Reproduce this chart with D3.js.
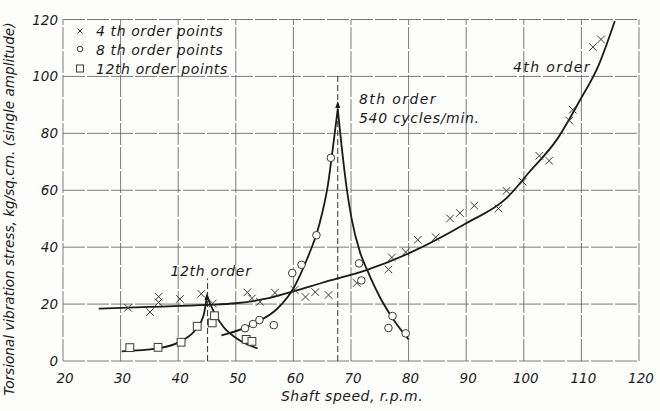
<!DOCTYPE html>
<html>
<head>
<meta charset="utf-8">
<script src="https://cdn.jsdelivr.net/npm/d3@7"></script>
<style>
  body { margin: 0; background: #fdfdfc; }
  svg text { font-family: "DejaVu Sans", sans-serif; font-style: oblique; fill: #1a1a1a; }
</style>
</head>
<body>
<div id="chart"></div>
<script>
// tick values
var xTicks = [20, 30, 40, 50, 60, 70, 80, 90, 100, 110, 120];
var yTicks = [0, 20, 40, 60, 80, 100, 120];

// measured points [rpm, stress]
var fourthPoints = [[31.3,18.7],[35.1,17.2],[36.6,22.6],[36.6,20.6],[40.3,21.8],[44.0,23.6],[46.0,20.2],
  [52.0,24.1],[52.8,22.0],[54.2,20.8],[56.8,24.0],[60.2,25.0],[62.1,22.5],[63.8,24.2],[66.1,23.2],
  [71.0,27.4],[76.5,32.2],[77.1,36.4],[79.5,38.3],[81.6,42.6],[84.7,43.5],[87.2,50.1],[88.9,52.0],
  [91.4,54.6],[95.6,53.6],[97.0,59.8],[99.8,63.0],[102.7,72.1],[104.4,70.4],[107.9,84.5],[108.5,88.3],
  [112.0,110.3],[113.4,113.0]];
var eighthPoints = [[51.6,11.5],[53.0,13.0],[54.1,14.4],[56.6,12.6],[59.8,30.9],[61.4,33.8],[64.0,44.2],
  [66.5,71.4],[71.4,34.3],[71.8,28.3],[76.5,11.6],[77.2,15.8],[79.5,9.7]];
var twelfthPoints = [[31.6,4.7],[36.5,4.8],[40.5,6.6],[43.3,12.2],[45.9,13.4],[46.3,15.9],[51.8,7.6],[52.8,6.9]];

// faired curves
var fourthCurve = [[26.2,18.4],[35,19.0],[45,19.7],[50,20.3],[55,21.8],[60,24.5],[65,27.5],[72.8,32],
  [80,37.8],[90,48.4],[97,57.2],[101,66.5],[105.7,77.7],[109.6,91.1],[113,104],[115.8,119.5]];
var eighthRise = [[47.5,9.0],[51,11.2],[54,14],[57,18],[59,22.5],[60,25.5],[61,29.5],[62,34],[63,39],
  [64,44.5],[65,52],[66,62],[66.8,74],[67.7,88.5]];
var eighthFall = [[67.7,88.5],[68.4,75],[69.3,60],[70.1,50],[71.6,38],[72.8,32],[75,22.5],[77.3,14.8],[80,7.6]];
var twelfthRise = [[30.2,3.4],[36.3,4.4],[40.3,6.8],[43.2,11.5],[44.4,16],[45,22.8]];
var twelfthFall = [[45,22.8],[45.5,20.3],[47.8,12.1],[50.1,8.0],[53.8,4.4]];

var legendItems = ["4 th order points", "8 th order points", "12th order points"];

var width = 660, height = 411,
    margin = { top: 19.5, right: 21, bottom: 50, left: 63 };

var svg = d3.select('#chart').append('svg')
    .attr('width', width)
    .attr('height', height);

var x = d3.scaleLinear().domain([20, 120]).range([margin.left, width - margin.right]);
var y = d3.scaleLinear().domain([0, 120]).range([height - margin.bottom, margin.top]);

// grid
var grid = svg.append('g').attr('class', 'grid')
    .attr('stroke', '#5a5a5a').attr('stroke-width', 0.8).attr('stroke-dasharray', '22,2');
grid.selectAll('line.v').data(xTicks).enter().append('line')
    .attr('x1', function(d) { return x(d); }).attr('x2', function(d) { return x(d); })
    .attr('y1', y(0)).attr('y2', y(120));
grid.selectAll('line.h').data(yTicks).enter().append('line')
    .attr('y1', function(d) { return y(d); }).attr('y2', function(d) { return y(d); })
    .attr('x1', x(20)).attr('x2', x(120));

// tick labels
svg.append('g').selectAll('text').data(yTicks).enter().append('text')
    .attr('x', margin.left - 5).attr('y', function(d) { return y(d) + 5; })
    .attr('text-anchor', 'end').style('font-size', '13.5px')
    .text(function(d) { return d; });
svg.append('g').selectAll('text').data(xTicks).enter().append('text')
    .attr('x', function(d) { return x(d) + 2; }).attr('y', y(0) + 22)
    .attr('text-anchor', 'middle').style('font-size', '13.5px')
    .text(function(d) { return d; });

// axis titles
svg.append('text')
    .attr('transform', 'translate(14,' + 209 + ') rotate(-90)')
    .attr('text-anchor', 'middle').style('font-size', '13.6px')
    .text('Torsional vibration stress, kg/sq.cm. (single amplitude)');
svg.append('text')
    .attr('x', 352).attr('y', 401)
    .attr('text-anchor', 'middle').style('font-size', '14px').style('letter-spacing', '0.5px')
    .text('Shaft speed, r.p.m.');

// resonance lines (dashed verticals)
svg.append('line')
    .attr('x1', x(45.1)).attr('x2', x(45.1)).attr('y1', y(0)).attr('y2', y(29))
    .attr('stroke', '#333').attr('stroke-width', 1).attr('stroke-dasharray', '6,3');
svg.append('line')
    .attr('x1', x(67.7)).attr('x2', x(67.7)).attr('y1', y(0)).attr('y2', y(100.5))
    .attr('stroke', '#333').attr('stroke-width', 1).attr('stroke-dasharray', '6,3');

// curves
var line = d3.line()
    .x(function(d) { return x(d[0]); })
    .y(function(d) { return y(d[1]); })
    .curve(d3.curveMonotoneX);

svg.append('g').attr('class', 'curves')
    .selectAll('path')
    .data([fourthCurve, eighthRise, eighthFall, twelfthRise, twelfthFall])
    .enter().append('path')
    .attr('d', line)
    .attr('fill', 'none')
    .attr('stroke', '#1a1a1a')
    .attr('stroke-width', 1.8);

// little arrow heads at the peaks
function arrowUp(cx, cy) {
    return 'M' + (cx - 2.5) + ',' + (cy + 6) + 'L' + cx + ',' + (cy - 1) + 'L' + (cx + 2.5) + ',' + (cy + 6) + 'Z';
}
svg.append('path').attr('d', arrowUp(x(45), y(23.5))).attr('fill', '#1a1a1a');
svg.append('path').attr('d', arrowUp(x(67.7), y(91))).attr('fill', '#1a1a1a');

// markers
var pts = svg.append('g').attr('class', 'points')
    .attr('stroke', '#3a3a3a').attr('stroke-width', 1).attr('fill', 'none');

function cross(sel, s) {
    sel.append('path')
        .attr('d', function(d) {
            var cx = x(d[0]), cy = y(d[1]);
            return 'M' + (cx - s) + ',' + (cy - s) + 'L' + (cx + s) + ',' + (cy + s) +
                   'M' + (cx - s) + ',' + (cy + s) + 'L' + (cx + s) + ',' + (cy - s);
        });
}
pts.selectAll('g.c4').data(fourthPoints).enter().append('g').call(cross, 3.8);
pts.selectAll('circle').data(eighthPoints).enter().append('circle')
    .attr('cx', function(d) { return x(d[0]); })
    .attr('cy', function(d) { return y(d[1]); })
    .attr('r', 3.8).attr('fill', '#fdfdfc');
pts.selectAll('rect').data(twelfthPoints).enter().append('rect')
    .attr('x', function(d) { return x(d[0]) - 3.9; })
    .attr('y', function(d) { return y(d[1]) - 3.9; })
    .attr('width', 7.8).attr('height', 7.8).attr('fill', '#fdfdfc');

// curve labels
var lab = svg.append('g').style('font-size', '14px').style('letter-spacing', '0.7px');
lab.append('text').attr('x', 211).attr('y', 276).attr('text-anchor', 'middle').text('12th order');
lab.append('text').attr('x', 359).attr('y', 104).style('letter-spacing', '1.4px').text('8th order');
lab.append('text').attr('x', 359).attr('y', 123).text('540 cycles/min.');
lab.append('text').attr('x', 513).attr('y', 72).style('letter-spacing', '1.4px').text('4th order');

// legend
var legend = svg.append('g').attr('class', 'legend');
legendItems.forEach(function(t, i) {
    var ly = 31 + i * 19;
    legend.append('text').attr('x', 96).attr('y', ly + 5).style('font-size', '14px')
        .style('letter-spacing', '0.6px').text(t);
});
var lg = legend.append('g').attr('stroke', '#3a3a3a').attr('stroke-width', 1).attr('fill', 'none');
lg.append('path').attr('d', 'M77.5,28.5L82.5,33.5M77.5,33.5L82.5,28.5');
lg.append('circle').attr('cx', 80).attr('cy', 49).attr('r', 2.8);
lg.append('rect').attr('x', 76.5).attr('y', 65).attr('width', 7).attr('height', 7);
</script>
</body>
</html>
